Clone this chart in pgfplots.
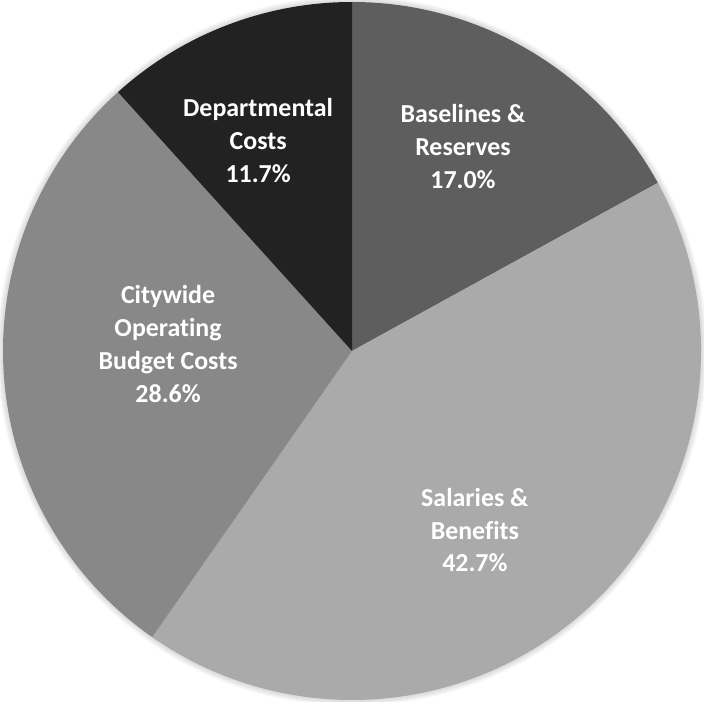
\documentclass[border=0pt]{standalone}
\usepackage{pgfplots}
\pgfplotsset{compat=1.18}
\usepackage{pgfplotstable}
\usepackage{fontspec}
\setmainfont{Carlito}[Ligatures=NoCommon]
\definecolor{cA}{HTML}{5E5E5E}
\definecolor{cB}{HTML}{AAAAAA}
\definecolor{cC}{HTML}{888888}
\definecolor{cD}{HTML}{222222}
\pgfplotstableread{
share color lx ly
17.0 cA 0.318 0.585
42.7 cB 0.352 -0.513
28.6 cC -0.527 0.020
11.7 cD -0.269 0.602
}\piedata
\begin{document}
\begin{tikzpicture}
\xdef\cum{0}%
\foreach \i in {0,1,2,3}{%
  \pgfplotstablegetelem{\i}{share}\of{\piedata}\let\val\pgfplotsretval
  \pgfplotstablegetelem{\i}{color}\of{\piedata}\expandafter\xdef\csname col\i\endcsname{\pgfplotsretval}%
  \pgfplotstablegetelem{\i}{lx}\of{\piedata}\expandafter\xdef\csname lx\i\endcsname{\pgfplotsretval}%
  \pgfplotstablegetelem{\i}{ly}\of{\piedata}\expandafter\xdef\csname ly\i\endcsname{\pgfplotsretval}%
  \pgfmathsetmacro{\sa}{90-3.6*\cum}%
  \pgfmathsetmacro{\newcum}{\cum+\val}%
  \pgfmathsetmacro{\ea}{90-3.6*\newcum}%
  \expandafter\xdef\csname sa\i\endcsname{\sa}%
  \expandafter\xdef\csname ea\i\endcsname{\ea}%
  \xdef\cum{\newcum}%
}%
\begin{axis}[
  width=704bp, height=702bp, scale only axis,
  xmin=-1.00860, xmax=1.00860, ymin=-1.00573, ymax=1.00573,
  hide axis, clip=false,
]
\pgfplotsinvokeforeach{6,5,4,3,2,1}{
  \fill[black,opacity=0.025] (axis cs:0,0) circle[radius={349bp+#1bp}];
}
\pgfplotsinvokeforeach{0,1,2,3}{
  \fill[color=\csname col#1\endcsname]
    (axis cs:0,0) -- (axis cs:{cos(\csname sa#1\endcsname)},{sin(\csname sa#1\endcsname)})
    arc[start angle=\csname sa#1\endcsname, end angle=\csname ea#1\endcsname, radius=349bp] -- cycle;
}
\tikzset{lbl/.style={white,align=center,font=\fontsize{26}{33}\selectfont\bfseries}}
\node[lbl] at (axis cs:\csname lx0\endcsname,\csname ly0\endcsname) {Baselines \&\\Reserves\\17.0\%};
\node[lbl] at (axis cs:\csname lx1\endcsname,\csname ly1\endcsname) {Salaries \&\\Benefits\\42.7\%};
\node[lbl] at (axis cs:\csname lx2\endcsname,\csname ly2\endcsname) {Citywide\\Operating\\Budget Costs\\28.6\%};
\node[lbl] at (axis cs:\csname lx3\endcsname,\csname ly3\endcsname) {Departmental\\Costs\\11.7\%};
\end{axis}
\pgfresetboundingbox
\useasboundingbox (current axis.south west) rectangle (current axis.north east);
\end{tikzpicture}
\end{document}
